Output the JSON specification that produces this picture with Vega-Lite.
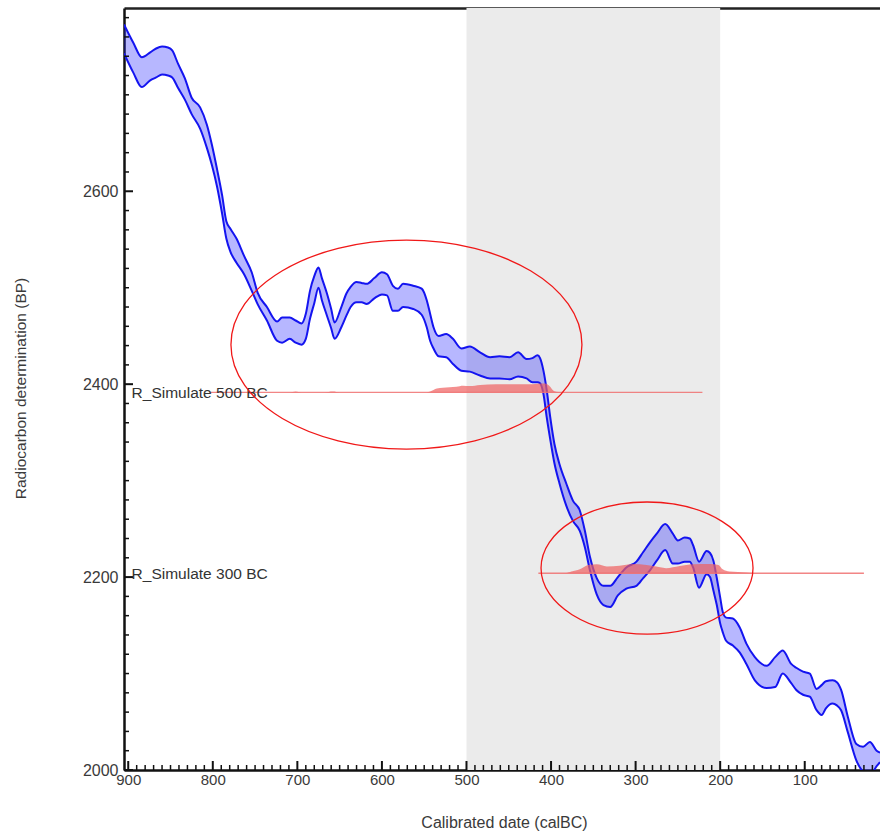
{
  "$schema": "https://vega.github.io/schema/vega-lite/v6.json",
  "width": 756,
  "height": 762,
  "autosize": {"type": "none"},
  "padding": {"left": 124, "top": 8, "right": 0, "bottom": 61},
  "background": "white",
  "config": {
    "view": {"stroke": null},
    "axis": {"labelFont": "Liberation Sans", "titleFont": "Liberation Sans", "labelColor": "#3a3a3a", "titleColor": "#3a3a3a", "domainColor": "#111111", "tickColor": "#111111", "grid": false, "labelFlush": false, "labelOverlap": false}
  },
  "datasets": {
    "band": [{"from": 500, "to": 200}],
    "xmajor": [{"v": 900}, {"v": 800}, {"v": 700}, {"v": 600}, {"v": 500}, {"v": 400}, {"v": 300}, {"v": 200}, {"v": 100}],
    "xminor": [{"v":20},{"v":30},{"v":40},{"v":50},{"v":60},{"v":70},{"v":80},{"v":90},{"v":110},{"v":120},{"v":130},{"v":140},{"v":150},{"v":160},{"v":170},{"v":180},{"v":190},{"v":210},{"v":220},{"v":230},{"v":240},{"v":250},{"v":260},{"v":270},{"v":280},{"v":290},{"v":310},{"v":320},{"v":330},{"v":340},{"v":350},{"v":360},{"v":370},{"v":380},{"v":390},{"v":410},{"v":420},{"v":430},{"v":440},{"v":450},{"v":460},{"v":470},{"v":480},{"v":490},{"v":510},{"v":520},{"v":530},{"v":540},{"v":550},{"v":560},{"v":570},{"v":580},{"v":590},{"v":610},{"v":620},{"v":630},{"v":640},{"v":650},{"v":660},{"v":670},{"v":680},{"v":690},{"v":710},{"v":720},{"v":730},{"v":740},{"v":750},{"v":760},{"v":770},{"v":780},{"v":790},{"v":810},{"v":820},{"v":830},{"v":840},{"v":850},{"v":860},{"v":870},{"v":880},{"v":890}],
    "ymajor": [{"v": 2000}, {"v": 2200}, {"v": 2400}, {"v": 2600}],
    "yminor": [{"v":2020},{"v":2040},{"v":2060},{"v":2080},{"v":2100},{"v":2120},{"v":2140},{"v":2160},{"v":2180},{"v":2220},{"v":2240},{"v":2260},{"v":2280},{"v":2300},{"v":2320},{"v":2340},{"v":2360},{"v":2380},{"v":2420},{"v":2440},{"v":2460},{"v":2480},{"v":2500},{"v":2520},{"v":2540},{"v":2560},{"v":2580},{"v":2620},{"v":2640},{"v":2660},{"v":2680},{"v":2700},{"v":2720},{"v":2740},{"v":2760},{"v":2780}],
    "curve": [
      {"year": 905, "hi": 2773, "lo": 2743}, {"year": 894, "hi": 2754, "lo": 2723}, {"year": 884, "hi": 2739, "lo": 2708},
      {"year": 874, "hi": 2744, "lo": 2715}, {"year": 867, "hi": 2748, "lo": 2718}, {"year": 860, "hi": 2750, "lo": 2721},
      {"year": 853, "hi": 2749, "lo": 2720}, {"year": 848, "hi": 2746, "lo": 2718}, {"year": 841, "hi": 2732, "lo": 2707},
      {"year": 833, "hi": 2717, "lo": 2695}, {"year": 825, "hi": 2697, "lo": 2680}, {"year": 815, "hi": 2687, "lo": 2665},
      {"year": 807, "hi": 2669, "lo": 2645}, {"year": 801, "hi": 2648, "lo": 2627}, {"year": 795, "hi": 2623, "lo": 2605},
      {"year": 789, "hi": 2596, "lo": 2577}, {"year": 784, "hi": 2569, "lo": 2551}, {"year": 779, "hi": 2561, "lo": 2537},
      {"year": 772, "hi": 2551, "lo": 2526}, {"year": 763, "hi": 2533, "lo": 2514}, {"year": 754, "hi": 2516, "lo": 2497},
      {"year": 747, "hi": 2495, "lo": 2483}, {"year": 736, "hi": 2480, "lo": 2466}, {"year": 724, "hi": 2465, "lo": 2445},
      {"year": 718, "hi": 2469, "lo": 2443}, {"year": 709, "hi": 2469, "lo": 2447}, {"year": 702, "hi": 2466, "lo": 2443},
      {"year": 695, "hi": 2463, "lo": 2441}, {"year": 690, "hi": 2473, "lo": 2447}, {"year": 685, "hi": 2497, "lo": 2468},
      {"year": 680, "hi": 2512, "lo": 2484}, {"year": 675, "hi": 2521, "lo": 2500}, {"year": 671, "hi": 2510, "lo": 2487},
      {"year": 665, "hi": 2494, "lo": 2471}, {"year": 660, "hi": 2478, "lo": 2458}, {"year": 656, "hi": 2464, "lo": 2447},
      {"year": 648, "hi": 2480, "lo": 2459}, {"year": 642, "hi": 2494, "lo": 2471}, {"year": 637, "hi": 2501, "lo": 2480},
      {"year": 630, "hi": 2506, "lo": 2485}, {"year": 624, "hi": 2505, "lo": 2485}, {"year": 618, "hi": 2504, "lo": 2483},
      {"year": 609, "hi": 2510, "lo": 2489}, {"year": 600, "hi": 2516, "lo": 2493}, {"year": 594, "hi": 2514, "lo": 2492},
      {"year": 587, "hi": 2502, "lo": 2476}, {"year": 581, "hi": 2499, "lo": 2476}, {"year": 575, "hi": 2504, "lo": 2480},
      {"year": 563, "hi": 2502, "lo": 2478}, {"year": 553, "hi": 2499, "lo": 2472}, {"year": 547, "hi": 2487, "lo": 2459},
      {"year": 543, "hi": 2473, "lo": 2445}, {"year": 539, "hi": 2459, "lo": 2437}, {"year": 533, "hi": 2450, "lo": 2429},
      {"year": 524, "hi": 2452, "lo": 2428}, {"year": 516, "hi": 2447, "lo": 2421}, {"year": 506, "hi": 2437, "lo": 2414},
      {"year": 496, "hi": 2439, "lo": 2413}, {"year": 484, "hi": 2433, "lo": 2409}, {"year": 472, "hi": 2428, "lo": 2406},
      {"year": 461, "hi": 2429, "lo": 2406}, {"year": 449, "hi": 2428, "lo": 2405}, {"year": 439, "hi": 2433, "lo": 2408},
      {"year": 429, "hi": 2426, "lo": 2406}, {"year": 422, "hi": 2427, "lo": 2402}, {"year": 416, "hi": 2430, "lo": 2402},
      {"year": 413, "hi": 2427, "lo": 2401}, {"year": 409, "hi": 2414, "lo": 2390}, {"year": 405, "hi": 2393, "lo": 2365},
      {"year": 401, "hi": 2366, "lo": 2343}, {"year": 396, "hi": 2338, "lo": 2318}, {"year": 390, "hi": 2317, "lo": 2297},
      {"year": 382, "hi": 2297, "lo": 2274}, {"year": 374, "hi": 2279, "lo": 2258}, {"year": 366, "hi": 2269, "lo": 2248},
      {"year": 360, "hi": 2248, "lo": 2231}, {"year": 354, "hi": 2221, "lo": 2207}, {"year": 346, "hi": 2199, "lo": 2182},
      {"year": 338, "hi": 2191, "lo": 2171}, {"year": 330, "hi": 2191, "lo": 2169}, {"year": 321, "hi": 2200, "lo": 2181},
      {"year": 311, "hi": 2210, "lo": 2188}, {"year": 299, "hi": 2216, "lo": 2191}, {"year": 291, "hi": 2226, "lo": 2199},
      {"year": 283, "hi": 2236, "lo": 2207}, {"year": 275, "hi": 2245, "lo": 2217}, {"year": 265, "hi": 2255, "lo": 2228},
      {"year": 256, "hi": 2245, "lo": 2214}, {"year": 250, "hi": 2238, "lo": 2214}, {"year": 242, "hi": 2241, "lo": 2216},
      {"year": 236, "hi": 2240, "lo": 2216}, {"year": 232, "hi": 2233, "lo": 2210}, {"year": 225, "hi": 2216, "lo": 2189},
      {"year": 216, "hi": 2227, "lo": 2203}, {"year": 212, "hi": 2225, "lo": 2200}, {"year": 208, "hi": 2217, "lo": 2186},
      {"year": 204, "hi": 2199, "lo": 2171}, {"year": 200, "hi": 2179, "lo": 2152}, {"year": 197, "hi": 2164, "lo": 2143},
      {"year": 193, "hi": 2158, "lo": 2134}, {"year": 185, "hi": 2157, "lo": 2129}, {"year": 177, "hi": 2148, "lo": 2122},
      {"year": 169, "hi": 2131, "lo": 2110}, {"year": 159, "hi": 2117, "lo": 2093}, {"year": 145, "hi": 2108, "lo": 2085},
      {"year": 135, "hi": 2117, "lo": 2086}, {"year": 126, "hi": 2124, "lo": 2100}, {"year": 116, "hi": 2110, "lo": 2090},
      {"year": 110, "hi": 2106, "lo": 2083}, {"year": 102, "hi": 2102, "lo": 2078}, {"year": 94, "hi": 2100, "lo": 2076},
      {"year": 86, "hi": 2084, "lo": 2062}, {"year": 80, "hi": 2088, "lo": 2057}, {"year": 75, "hi": 2092, "lo": 2064},
      {"year": 67, "hi": 2093, "lo": 2069}, {"year": 62, "hi": 2091, "lo": 2067}, {"year": 57, "hi": 2083, "lo": 2062},
      {"year": 49, "hi": 2055, "lo": 2039}, {"year": 39, "hi": 2027, "lo": 2010}, {"year": 31, "hi": 2024, "lo": 1998},
      {"year": 23, "hi": 2029, "lo": 1994}, {"year": 15, "hi": 2020, "lo": 2004}, {"year": 11, "hi": 2018, "lo": 2008}
    ],
    "dist": [
      {"series": "500 BC", "year": 803, "base": 2391.5, "top": 2391.5},
      {"series": "500 BC", "year": 709, "base": 2391.5, "top": 2391.5},
      {"series": "500 BC", "year": 702, "base": 2391.5, "top": 2392.5},
      {"series": "500 BC", "year": 695, "base": 2391.5, "top": 2391.5},
      {"series": "500 BC", "year": 668, "base": 2391.5, "top": 2391.5},
      {"series": "500 BC", "year": 658, "base": 2391.5, "top": 2392.3},
      {"series": "500 BC", "year": 650, "base": 2391.5, "top": 2391.5},
      {"series": "500 BC", "year": 547, "base": 2391.5, "top": 2391.5},
      {"series": "500 BC", "year": 543, "base": 2391.5, "top": 2392.5},
      {"series": "500 BC", "year": 535, "base": 2391.5, "top": 2395.6},
      {"series": "500 BC", "year": 528, "base": 2391.5, "top": 2396.3},
      {"series": "500 BC", "year": 512, "base": 2391.5, "top": 2397.3},
      {"series": "500 BC", "year": 504, "base": 2391.5, "top": 2398.3},
      {"series": "500 BC", "year": 496, "base": 2391.5, "top": 2398.0},
      {"series": "500 BC", "year": 484, "base": 2391.5, "top": 2399.1},
      {"series": "500 BC", "year": 465, "base": 2391.5, "top": 2399.8},
      {"series": "500 BC", "year": 445, "base": 2391.5, "top": 2399.8},
      {"series": "500 BC", "year": 425, "base": 2391.5, "top": 2399.8},
      {"series": "500 BC", "year": 413, "base": 2391.5, "top": 2400.8},
      {"series": "500 BC", "year": 407, "base": 2391.5, "top": 2400.8},
      {"series": "500 BC", "year": 401, "base": 2391.5, "top": 2397.3},
      {"series": "500 BC", "year": 398, "base": 2391.5, "top": 2393.9},
      {"series": "500 BC", "year": 394, "base": 2391.5, "top": 2392.1},
      {"series": "500 BC", "year": 384, "base": 2391.5, "top": 2391.5},
      {"series": "500 BC", "year": 221, "base": 2391.5, "top": 2391.5},
      {"series": "300 BC", "year": 415, "base": 2204, "top": 2204},
      {"series": "300 BC", "year": 396, "base": 2204, "top": 2204},
      {"series": "300 BC", "year": 382, "base": 2204, "top": 2204.3},
      {"series": "300 BC", "year": 376, "base": 2204, "top": 2205.8},
      {"series": "300 BC", "year": 366, "base": 2204, "top": 2208.1},
      {"series": "300 BC", "year": 356, "base": 2204, "top": 2212.6},
      {"series": "300 BC", "year": 346, "base": 2204, "top": 2213.3},
      {"series": "300 BC", "year": 334, "base": 2204, "top": 2211.0},
      {"series": "300 BC", "year": 319, "base": 2204, "top": 2211.8},
      {"series": "300 BC", "year": 303, "base": 2204, "top": 2213.5},
      {"series": "300 BC", "year": 287, "base": 2204, "top": 2212.6},
      {"series": "300 BC", "year": 271, "base": 2204, "top": 2210.2},
      {"series": "300 BC", "year": 264, "base": 2204, "top": 2209.2},
      {"series": "300 BC", "year": 248, "base": 2204, "top": 2211.5},
      {"series": "300 BC", "year": 232, "base": 2204, "top": 2213.3},
      {"series": "300 BC", "year": 212, "base": 2204, "top": 2213.6},
      {"series": "300 BC", "year": 202, "base": 2204, "top": 2212.6},
      {"series": "300 BC", "year": 197, "base": 2204, "top": 2208.0},
      {"series": "300 BC", "year": 189, "base": 2204, "top": 2205.8},
      {"series": "300 BC", "year": 169, "base": 2204, "top": 2204.8},
      {"series": "300 BC", "year": 153, "base": 2204, "top": 2204},
      {"series": "300 BC", "year": 30, "base": 2204, "top": 2204}
    ],
    "labels": [
      {"label": "R_Simulate 500 BC", "year": 896, "bp": 2391},
      {"label": "R_Simulate 300 BC", "year": 896, "bp": 2203}
    ],
    "ellipse1": [{"year": 571, "bp": 2441}],
    "ellipse2": [{"year": 286.5, "bp": 2209.4}]
  },
  "layer": [
    {
      "data": {"name": "band"},
      "mark": {"type": "rect", "color": "#EBEBEB"},
      "encoding": {
        "x": {"field": "from", "type": "quantitative", "scale": {"domain": [11, 905], "reverse": true, "nice": false, "zero": false},
          "axis": {"orient": "bottom", "title": "Calibrated date (calBC)", "values": [900, 800, 700, 600, 500, 400, 300, 200, 100], "format": "d", "ticks": false, "labelPadding": 2, "labelFontSize": 15, "domainWidth": 2.5, "titleFontSize": 16, "titleFontWeight": "normal", "titleX": 380, "titleY": 52, "titleBaseline": "middle", "titleAlign": "center"}},
        "x2": {"field": "to"}
      }
    },
    {
      "data": {"name": "curve"},
      "mark": {"type": "area", "color": "#2020FF", "opacity": 0.32, "clip": true, "interpolate": "monotone"},
      "encoding": {
        "x": {"field": "year", "type": "quantitative", "scale": {"domain": [11, 905], "reverse": true, "nice": false, "zero": false},
          "axis": {"orient": "top", "title": null, "labels": false, "ticks": false, "domain": true, "domainWidth": 2.5, "domainColor": "#222222"}},
        "y": {"field": "hi", "type": "quantitative", "scale": {"domain": [2000, 2790], "nice": false, "zero": false},
          "axis": {"orient": "left", "title": "Radiocarbon determination (BP)", "values": [2000, 2200, 2400, 2600], "format": "d", "ticks": false, "labelPadding": 6, "labelFontSize": 16, "domainWidth": 2.5, "titleFontSize": 15.5, "titleFontWeight": "normal", "titleX": -104, "titleY": 380, "titleAngle": 270, "titleBaseline": "middle", "titleAlign": "center"}},
        "y2": {"field": "lo"}
      }
    },
    {
      "data": {"name": "curve"},
      "mark": {"type": "line", "color": "#1414F0", "strokeWidth": 2, "clip": true, "interpolate": "monotone"},
      "encoding": {
        "x": {"field": "year", "type": "quantitative", "scale": {"domain": [11, 905], "reverse": true, "nice": false, "zero": false}, "axis": null},
        "y": {"field": "hi", "type": "quantitative", "scale": {"domain": [2000, 2790], "nice": false, "zero": false}, "axis": null}
      }
    },
    {
      "data": {"name": "curve"},
      "mark": {"type": "line", "color": "#1414F0", "strokeWidth": 2, "clip": true, "interpolate": "monotone"},
      "encoding": {
        "x": {"field": "year", "type": "quantitative", "scale": {"domain": [11, 905], "reverse": true, "nice": false, "zero": false}, "axis": null},
        "y": {"field": "lo", "type": "quantitative", "scale": {"domain": [2000, 2790], "nice": false, "zero": false}, "axis": null}
      }
    },
    {
      "data": {"name": "dist"},
      "mark": {"type": "area", "color": "#F06060", "opacity": 0.7, "interpolate": "monotone"},
      "encoding": {
        "x": {"field": "year", "type": "quantitative", "scale": {"domain": [11, 905], "reverse": true, "nice": false, "zero": false}, "axis": null},
        "y": {"field": "top", "type": "quantitative", "scale": {"domain": [2000, 2790], "nice": false, "zero": false}, "axis": null},
        "y2": {"field": "base"},
        "detail": {"field": "series"}
      }
    },
    {
      "data": {"name": "dist"},
      "mark": {"type": "line", "color": "#F07070", "strokeWidth": 1.3, "opacity": 0.85},
      "encoding": {
        "x": {"field": "year", "type": "quantitative", "scale": {"domain": [11, 905], "reverse": true, "nice": false, "zero": false}, "axis": null},
        "y": {"field": "base", "type": "quantitative", "scale": {"domain": [2000, 2790], "nice": false, "zero": false}, "axis": null},
        "detail": {"field": "series"}
      }
    },
    {
      "data": {"name": "xmajor"},
      "mark": {"type": "tick", "orient": "vertical", "size": 9, "thickness": 2, "color": "#111111", "opacity": 1, "yOffset": -4.5},
      "encoding": {
        "x": {"field": "v", "type": "quantitative", "scale": {"domain": [11, 905], "reverse": true, "nice": false, "zero": false}, "axis": null},
        "y": {"datum": 2000, "type": "quantitative", "scale": {"domain": [2000, 2790], "nice": false, "zero": false}, "axis": null}
      }
    },
    {
      "data": {"name": "xminor"},
      "mark": {"type": "tick", "orient": "vertical", "size": 5, "thickness": 1.5, "color": "#111111", "opacity": 1, "yOffset": -2.5},
      "encoding": {
        "x": {"field": "v", "type": "quantitative", "scale": {"domain": [11, 905], "reverse": true, "nice": false, "zero": false}, "axis": null},
        "y": {"datum": 2000, "type": "quantitative", "scale": {"domain": [2000, 2790], "nice": false, "zero": false}, "axis": null}
      }
    },
    {
      "data": {"name": "ymajor"},
      "mark": {"type": "tick", "orient": "horizontal", "size": 9, "thickness": 2, "color": "#111111", "opacity": 1, "xOffset": 4.5},
      "encoding": {
        "x": {"datum": 905, "type": "quantitative", "scale": {"domain": [11, 905], "reverse": true, "nice": false, "zero": false}, "axis": null},
        "y": {"field": "v", "type": "quantitative", "scale": {"domain": [2000, 2790], "nice": false, "zero": false}, "axis": null}
      }
    },
    {
      "data": {"name": "yminor"},
      "mark": {"type": "tick", "orient": "horizontal", "size": 5, "thickness": 1.5, "color": "#111111", "opacity": 1, "xOffset": 2.5},
      "encoding": {
        "x": {"datum": 905, "type": "quantitative", "scale": {"domain": [11, 905], "reverse": true, "nice": false, "zero": false}, "axis": null},
        "y": {"field": "v", "type": "quantitative", "scale": {"domain": [2000, 2790], "nice": false, "zero": false}, "axis": null}
      }
    },
    {
      "data": {"name": "labels"},
      "mark": {"type": "text", "align": "left", "baseline": "middle", "font": "Liberation Sans", "fontSize": 15.5, "color": "#333333"},
      "encoding": {
        "x": {"field": "year", "type": "quantitative", "scale": {"domain": [11, 905], "reverse": true, "nice": false, "zero": false}, "axis": null},
        "y": {"field": "bp", "type": "quantitative", "scale": {"domain": [2000, 2790], "nice": false, "zero": false}, "axis": null},
        "text": {"field": "label"}
      }
    },
    {
      "data": {"name": "ellipse1"},
      "mark": {"type": "point", "filled": false, "stroke": "#F01818", "strokeWidth": 1.3, "opacity": 1, "size": 123201,
        "shape": "M-1,0C-1,-0.3286,-0.5523,-0.595,0,-0.595C0.5523,-0.595,1,-0.3286,1,0C1,0.3286,0.5523,0.595,0,0.595C-0.5523,0.595,-1,0.3286,-1,0Z"},
      "encoding": {
        "x": {"field": "year", "type": "quantitative", "scale": {"domain": [11, 905], "reverse": true, "nice": false, "zero": false}, "axis": null},
        "y": {"field": "bp", "type": "quantitative", "scale": {"domain": [2000, 2790], "nice": false, "zero": false}, "axis": null}
      }
    },
    {
      "data": {"name": "ellipse2"},
      "mark": {"type": "point", "filled": false, "stroke": "#F01818", "strokeWidth": 1.3, "opacity": 1, "size": 44944,
        "shape": "M-1,0C-1,-0.3441,-0.5523,-0.623,0,-0.623C0.5523,-0.623,1,-0.3441,1,0C1,0.3441,0.5523,0.623,0,0.623C-0.5523,0.623,-1,0.3441,-1,0Z"},
      "encoding": {
        "x": {"field": "year", "type": "quantitative", "scale": {"domain": [11, 905], "reverse": true, "nice": false, "zero": false}, "axis": null},
        "y": {"field": "bp", "type": "quantitative", "scale": {"domain": [2000, 2790], "nice": false, "zero": false}, "axis": null}
      }
    }
  ],
  "resolve": {"axis": {"x": "independent", "y": "independent"}}
}
